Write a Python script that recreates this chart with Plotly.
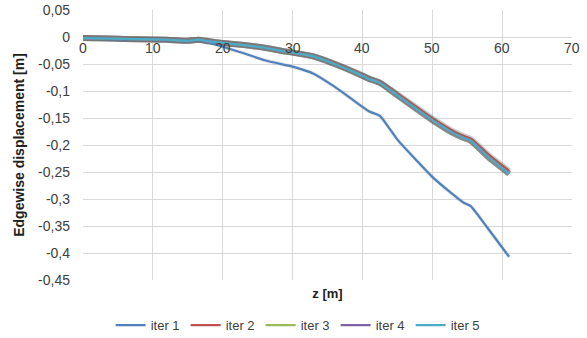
import plotly.graph_objects as go

# Spanwise stations [m]
z = [0, 4, 8, 12, 15, 16.5, 18, 20, 23, 26, 29, 30, 33, 36, 39, 41, 42.5,
     45, 48, 50, 53, 54.5, 55.5, 58, 61]

# Edgewise displacement per iteration [m]
iter1 = [-0.003, -0.004, -0.005, -0.006, -0.008, -0.006, -0.010, -0.018, -0.030,
         -0.043, -0.052, -0.055, -0.068, -0.092, -0.120, -0.138, -0.146,
         -0.190, -0.232, -0.259, -0.292, -0.307, -0.313, -0.355, -0.407]
iter2 = [-0.002, -0.003, -0.004, -0.005, -0.007, -0.005, -0.008, -0.011, -0.015,
         -0.020, -0.027, -0.029, -0.036, -0.049, -0.065, -0.077, -0.084,
         -0.106, -0.133, -0.151, -0.175, -0.184, -0.189, -0.218, -0.248]
iter3 = [-0.002, -0.003, -0.004, -0.005, -0.007, -0.005, -0.008, -0.011, -0.015,
         -0.020, -0.027, -0.029, -0.036, -0.050, -0.066, -0.078, -0.085,
         -0.108, -0.136, -0.154, -0.178, -0.187, -0.192, -0.222, -0.253]
iter4 = [-0.002, -0.003, -0.004, -0.005, -0.007, -0.005, -0.008, -0.011, -0.015,
         -0.020, -0.027, -0.029, -0.036, -0.050, -0.066, -0.078, -0.085,
         -0.108, -0.136, -0.154, -0.178, -0.187, -0.192, -0.222, -0.253]
iter5 = [-0.002, -0.003, -0.004, -0.005, -0.007, -0.005, -0.008, -0.011, -0.015,
         -0.020, -0.027, -0.029, -0.036, -0.050, -0.066, -0.078, -0.085,
         -0.108, -0.136, -0.154, -0.178, -0.187, -0.192, -0.222, -0.253]

names = ["iter 1", "iter 2", "iter 3", "iter 4", "iter 5"]
colors = ["#4F81BD", "#C0504D", "#9BBB59", "#8064A2", "#4BACC6"]
series = [iter1, iter2, iter3, iter4, iter5]

x_ticks = [0, 10, 20, 30, 40, 50, 60, 70]
x_ticktext = ["0", "10", "20", "30", "40", "50", "60", "70"]
y_ticks = [0.05, 0, -0.05, -0.1, -0.15, -0.2, -0.25, -0.3, -0.35, -0.4, -0.45]
y_ticktext = ["0,05", "0", "-0,05", "-0,1", "-0,15", "-0,2", "-0,25",
              "-0,3", "-0,35", "-0,4", "-0,45"]

FONT = "Liberation Sans, Arial, sans-serif"
TXT = "#404040"

fig = go.Figure()

# soft drop shadow under each curve
for i, ys in enumerate(series):
    fig.add_trace(go.Scatter(
        x=z, y=ys, mode="lines", showlegend=False, hoverinfo="skip",
        line=dict(color="rgba(80,80,80,0.3)" if i else "rgba(80,80,80,0.12)",
                  width=6 if i else 4, shape="spline", smoothing=0.5),
    ))

for name, color, ys in zip(names, colors, series):
    fig.add_trace(go.Scatter(
        x=z, y=ys, mode="lines", name=name,
        line=dict(color=color, width=2.25, shape="spline", smoothing=0.5),
    ))

# x tick labels sit just under the zero line, where the axis crosses
for xv, label in zip(x_ticks, x_ticktext):
    fig.add_annotation(x=xv, y=0, xref="x", yref="y", text=label,
                       showarrow=False, yanchor="top", xanchor="center",
                       yshift=-1, font=dict(family=FONT, size=14, color=TXT))

fig.update_layout(
    width=587, height=338,
    margin=dict(l=83, r=15, t=10, b=58, autoexpand=False),
    paper_bgcolor="white", plot_bgcolor="white",
    font=dict(family=FONT, size=14, color=TXT),
    xaxis=dict(
        range=[0, 70], tickvals=x_ticks, showticklabels=False,
        showgrid=True, gridcolor="#D9D9D9", gridwidth=1,
        zeroline=False, showline=False, ticks="",
        title=dict(text="<b>z [m]</b>", font=dict(size=13, color="#202020"),
                   standoff=8),
    ),
    yaxis=dict(
        range=[-0.45, 0.05], tickvals=y_ticks, ticktext=y_ticktext,
        showgrid=True, gridcolor="#D9D9D9", gridwidth=1,
        zeroline=False, showline=False, ticks="", ticklabelstandoff=12,
        title=dict(text="<b>Edgewise displacement [m]</b>",
                   font=dict(size=14, color="#202020"), standoff=10),
    ),
    legend=dict(
        orientation="h", x=0.44, xanchor="center", xref="paper",
        y=-0.167, yanchor="middle", font=dict(size=13, color=TXT),
        entrywidth=30, itemwidth=30, tracegroupgap=0,
    ),
    showlegend=True,
)

fig.write_html("out.html")
